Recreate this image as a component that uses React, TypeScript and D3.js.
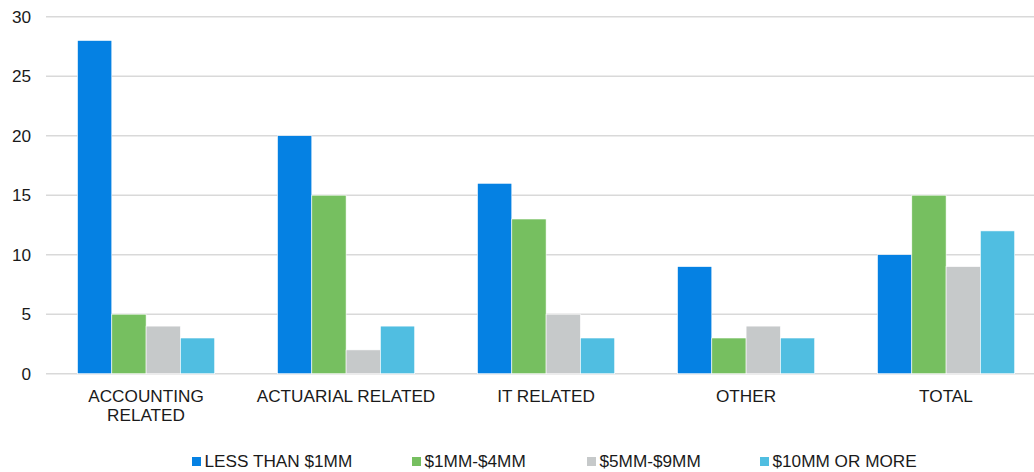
import React from "react";
import * as d3 from "d3";

const categories: string[][] = [
  ["ACCOUNTING", "RELATED"],
  ["ACTUARIAL RELATED"],
  ["IT RELATED"],
  ["OTHER"],
  ["TOTAL"],
];
const seriesNames = ["LESS THAN $1MM", "$1MM-$4MM", "$5MM-$9MM", "$10MM OR MORE"];
const lessThan1 = [28, 20, 16, 9, 10];
const mm1to4 = [5, 15, 13, 3, 15];
const mm5to9 = [4, 2, 5, 4, 9];
const mm10plus = [3, 4, 3, 3, 12];
const yTicks = [0, 5, 10, 15, 20, 25, 30];
const colors = ["#0581e3", "#76bf60", "#c6c9ca", "#50bee1"];

const W = 1034;
const H = 472;
const FONT = "'Liberation Sans', Arial, sans-serif";
const FS = 17.2;

export default function App() {
  const seriesValues = [lessThan1, mm1to4, mm5to9, mm10plus];
  const catKeys = categories.map((c) => c.join(" "));
  const x = d3.scaleBand<string>().domain(catKeys).range([46, 1046]).padding(0);
  const xi = d3
    .scaleBand<number>()
    .domain(seriesNames.map((_, i) => i))
    .range([31.5, 168.7])
    .padding(0);
  const y = d3.scaleLinear().domain([0, 30]).range([373.7, 16.7]);

  const legendX = [192, 412, 587, 760];

  return (
    <svg
      width={W}
      height={H}
      style={{ position: "absolute", left: 0, top: 0, background: "#fff" }}
      fontFamily={FONT}
    >
      <rect width={W} height={H} fill="#fff" />
      {yTicks.map((t) => (
        <g key={t}>
          <line x1={46} x2={W} y1={y(t)} y2={y(t)} stroke="#d9d9d9" strokeWidth={1.5} />
          <text x={31} y={y(t)} dy="0.35em" textAnchor="end" fontSize={FS} fill="#1a1a1a">
            {t}
          </text>
        </g>
      ))}
      {catKeys.map((ck, ci) => (
        <g key={ck} transform={`translate(${x(ck)},0)`}>
          {seriesValues.map((vals, si) => (
            <rect
              key={si}
              x={xi(si)}
              width={xi.bandwidth()}
              y={y(vals[ci])}
              height={y(0) - y(vals[ci])}
              fill={colors[si]}
              stroke="#fff"
              strokeWidth={0.6}
            />
          ))}
          {categories[ci].map((line, li) => (
            <text
              key={li}
              x={x.bandwidth() / 2}
              y={401.5 + li * 19}
              textAnchor="middle"
              fontSize={FS}
              fill="#1a1a1a"
            >
              {line}
            </text>
          ))}
        </g>
      ))}
      {seriesNames.map((s, i) => (
        <g key={s} transform={`translate(${legendX[i]},0)`}>
          <rect x={0} y={457} width={9} height={9} fill={colors[i]} />
          <text x={12.5} y={467} fontSize={FS} fill="#1a1a1a">
            {s}
          </text>
        </g>
      ))}
    </svg>
  );
}
